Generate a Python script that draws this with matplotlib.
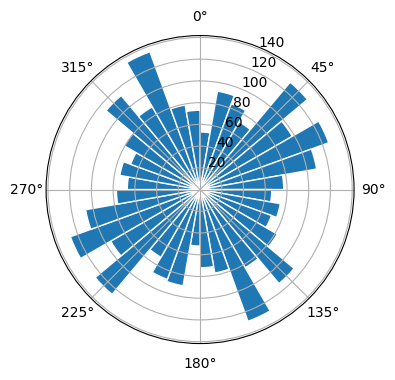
import numpy as np
import matplotlib
matplotlib.use('Agg')
import matplotlib.pyplot as plt

# Direcoes (inicio de cada setor, em graus) e contagens
direcoes = np.arange(0, 360, 10)
contagens = [53, 92, 84, 72, 129, 98, 126, 109, 77,
             66, 75, 70, 82, 113, 83, 129, 78, 72,
             52, 90, 88, 72, 126, 95, 127, 107, 77,
             67, 75, 68, 81, 113, 88, 135, 79, 73]

theta = np.deg2rad(direcoes)
largura = np.deg2rad(10)

fig = plt.figure(figsize=(4, 4))
ax = fig.add_subplot(111, projection='polar')

# Barras do histograma polar
ax.bar(theta, contagens, width=largura, align='edge',
       color='C0', edgecolor='white', linewidth=1)

# Norte no topo, sentido horario
ax.set_theta_zero_location('N')
ax.set_theta_direction(-1)
ax.set_yticks([20, 40, 60, 80, 100, 120, 140])

plt.savefig('out.png', bbox_inches='tight')
